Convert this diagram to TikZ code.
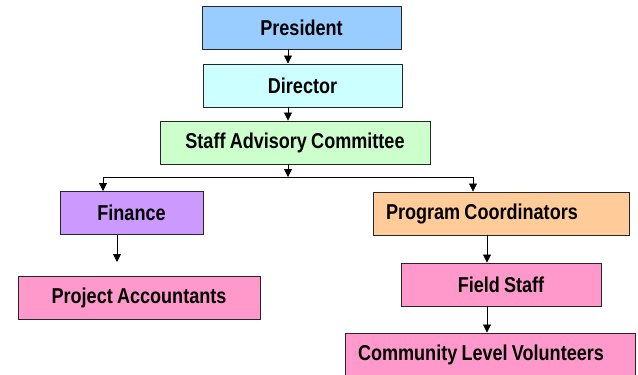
\documentclass[tikz,border=0pt]{standalone}
\usepackage{fontspec}
\setmainfont[FakeStretch=0.84, WordSpace=0.84]{Liberation Sans}
\usepackage{xcolor}
\usepackage{tikz}
\usetikzlibrary{positioning, arrows.meta}
\definecolor{presblue}{HTML}{99CCFF}
\definecolor{dircyan}{HTML}{CCFFFF}
\definecolor{sacgreen}{HTML}{CCFFCC}
\definecolor{finviolet}{HTML}{CC99FF}
\definecolor{pcorange}{HTML}{FFCC99}
\definecolor{staffpink}{HTML}{FF99CC}

\begin{document}
\begin{tikzpicture}[x=1pt, y=-1pt,
    box/.style={draw=black!85, line width=0.9pt, minimum height=43pt, inner sep=0pt,
                font=\fontsize{21.5}{24}\selectfont\bfseries},
    leftbox/.style={box, inner xsep=13pt, align=flush left},
    arr/.style={-{Triangle[width=8pt, length=8pt]}, line width=0.8pt}]
  \useasboundingbox (0,0) rectangle (638,375);

  % top of the chart
  \node[box, fill=presblue, minimum width=199pt] (pres) at (301.5,27.5) {President};
  \node[box, fill=dircyan, minimum width=199pt] (dir) at (302.5,85.5) {Director};
  \node[box, fill=sacgreen, minimum width=270pt] (sac) at (295,142.5) {Staff Advisory Committee};

  % two branches
  \node[box, fill=finviolet, minimum width=143pt] (fin) at (131.5,213) {Finance};
  \node[leftbox, fill=pcorange, minimum width=256pt, text width=230pt] (pc) at (501,213.5) {Program Coordinators};
  \node[box, fill=staffpink, minimum width=242pt] (acc) at (139,298) {Project Accountants};
  \node[box, fill=staffpink, minimum width=200pt] (field) at (501,284.5) {Field Staff};
  \node[leftbox, fill=staffpink, minimum width=290pt, text width=264pt] (vol) at (490,354.5) {Community Level Volunteers};

  \coordinate (spine) at (288,0);
  \coordinate (bus) at (288,177);
  \coordinate (busL) at (103,177);
  \coordinate (busR) at (473,177);
  \coordinate (finend) at (117,262);
  \coordinate (rspine) at (487,0);

  \draw[arr] (pres.south -| spine) -- (dir.north -| spine);
  \draw[arr] (dir.south -| spine) -- (sac.north -| spine);
  \draw[arr] (sac.south -| spine) -- (bus);
  \draw[line width=0.8pt] (busL) -- (busR);
  \draw[arr] (busL) -- (busL |- fin.north);
  \draw[arr] (busR) -- (busR |- pc.north);
  \draw[arr] (finend |- fin.south) -- (finend);
  \draw[arr] (pc.south -| rspine) -- (field.north -| rspine);
  \draw[arr] (field.south -| rspine) -- (vol.north -| rspine);
\end{tikzpicture}
\end{document}
